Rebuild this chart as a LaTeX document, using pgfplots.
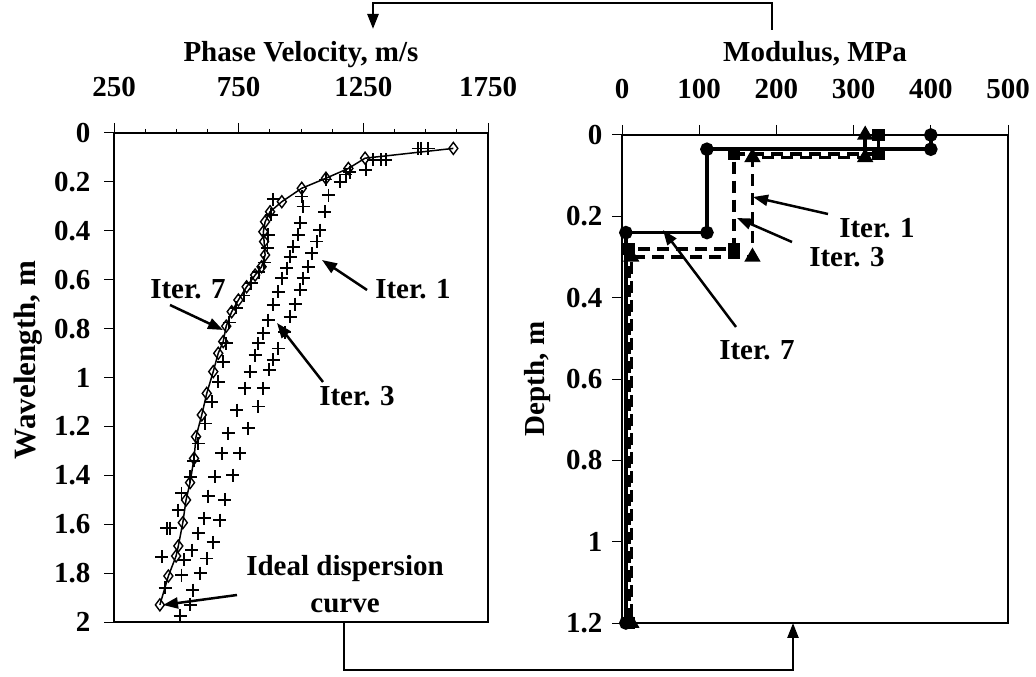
\documentclass[border=0pt]{standalone}
\usepackage{pgfplots}
\pgfplotsset{compat=1.18}
\usepackage{fontspec}
\setmainfont{Liberation Serif}
\usetikzlibrary{arrows.meta}

\newcommand\bigfont{\fontsize{29}{37}\selectfont\bfseries}

\pgfplotsset{panel/.style={
  scale only axis, clip=false,
  y dir=reverse,
  xticklabel pos=upper, xtick pos=upper, ytick pos=left,
  axis line style={line width=1.2pt},
  tick align=outside, major tick length=10pt, minor tick length=4pt,
  tick style={line width=1pt, black},
  tick label style={font=\bigfont},
  xticklabel style={yshift=23pt},
  /pgf/number format/assume math mode=true,
  /pgf/number format/1000 sep={},
}}
\tikzset{ann/.style={line width=2.5pt,-{Triangle[length=15pt,width=11pt]}}}

\begin{document}
\begin{tikzpicture}
\useasboundingbox (0pt,0pt) rectangle (1036pt,677pt);

% left panel: dispersion curves
\begin{axis}[panel, at={(114pt,55pt)}, anchor=south west,
  width=374pt, height=489pt,
  xmin=250, xmax=1750, ymin=0, ymax=2,
  xtick={250,750,1250,1750}, minor x tick num=3,
  ytick={0,0.2,0.4,0.6,0.8,1,1.2,1.4,1.6,1.8,2},
  yticklabel style={xshift=-10pt}]
% iteration 1
\addplot[only marks, mark=+, mark size=6.5pt, mark options={line width=1.8pt}] coordinates {
(1480,0.063) (1340,0.11) (1260,0.15) (1157,0.20) (1110,0.254) (1096,0.322)
(1076,0.397) (1063,0.444) (1043,0.492) (1029,0.547) (1009,0.594) (996,0.642)
(976,0.700) (956,0.751) (935,0.815) (909,0.881) (889,0.928) (873,0.969)
(849,1.044) (829,1.119) (789,1.208) (755,1.310) (726,1.399) (695,1.501)
(675,1.583) (648,1.674) (622,1.740) (595,1.800) (566,1.870) (555,1.930)};
% iteration 3
\addplot[only marks, mark=+, mark size=6.5pt, mark options={line width=1.8pt}] coordinates {
(1510,0.063) (1320,0.11) (1180,0.17) (1003,0.26) (1009,0.301) (996,0.367)
(989,0.417) (969,0.465) (956,0.506) (943,0.553) (923,0.594) (909,0.649)
(889,0.703) (869,0.765) (849,0.819) (829,0.860) (816,0.908) (796,0.976)
(775,1.044) (742,1.133) (708,1.228) (682,1.310) (655,1.406) (628,1.485)
(611,1.576) (588,1.637) (562,1.706) (531,1.746) (521,1.808) (515,1.975)};
% iteration 7
\addplot[only marks, mark=+, mark size=6.5pt, mark options={line width=1.8pt}] coordinates {
(1470,0.063) (1290,0.11) (1195,0.16) (1100,0.19) (889,0.271) (880,0.335)
(869,0.417) (866,0.47) (852,0.53) (830,0.57) (800,0.615) (770,0.665)
(740,0.715) (712,0.775) (700,0.86) (688,0.935) (668,1.017) (642,1.099)
(615,1.188) (588,1.270) (570,1.34) (555,1.406) (521,1.474) (508,1.542)
(461,1.617) (476,1.617) (441,1.733) (455,1.86)};
% ideal dispersion curve
\addplot[black, line width=1.5pt, mark=diamond, mark size=6pt,
  mark options={fill=white, line width=1.4pt}] coordinates {
(1611,0.063) (1257,0.103) (1190,0.145) (1100,0.185) (1003,0.226) (923,0.281)
(876,0.322) (856,0.363) (849,0.404) (852,0.444) (856,0.499) (842,0.547)
(816,0.581) (782,0.629) (749,0.683) (722,0.731) (700,0.79) (688,0.853)
(668,0.901) (648,0.976) (622,1.065) (602,1.153) (579,1.242) (571,1.331)
(555,1.430) (539,1.501) (526,1.594) (508,1.689) (499,1.730) (468,1.812)
(434,1.930)};
\end{axis}

% right panel: modulus profiles
\begin{axis}[panel, at={(622pt,54pt)}, anchor=south west,
  width=386pt, height=488pt,
  xmin=0, xmax=500, ymin=0, ymax=1.2,
  xtick={0,100,200,300,400,500},
  ytick={0,0.2,0.4,0.6,0.8,1,1.2},
  yticklabel style={xshift=-6pt}]
% iteration 7
\addplot[black, line width=3.5pt, mark=*, mark size=5pt] coordinates {
(400,0) (400,0.035) (110,0.035) (110,0.24) (5,0.24) (5,1.2)};
% iteration 3
\addplot[black, line width=3.5pt, dash pattern=on 12pt off 7pt, mark=square*, mark size=4.5pt,
  mark options={solid}] coordinates {
(332,0) (332,0.047) (145,0.047) (145,0.28) (9,0.28) (9,1.2)};
% iteration 1
\addplot[black, line width=3.5pt, dash pattern=on 12pt off 7pt, mark=triangle*, mark size=6pt,
  mark options={solid}] coordinates {
(315,0) (315,0.055) (169,0.055) (169,0.30) (12,0.30) (12,1.2)};
\end{axis}

% axis titles
\node[font=\bigfont, anchor=base] at (301pt,615pt) {Phase Velocity, m/s};
\node[font=\bigfont, anchor=base] at (815pt,615pt) {Modulus, MPa};
\node[font=\fontsize{31}{37}\selectfont\bfseries, rotate=90] at (28pt,317pt) {Wavelength, m};
\node[font=\bigfont, rotate=90] at (538pt,298pt) {Depth, m};

% annotations, left
\node[font=\bigfont] at (188pt,388pt) {Iter. 7};
\draw[ann] (170pt,372pt) -- (223pt,347pt);
\node[font=\bigfont] at (413pt,388pt) {Iter. 1};
\draw[ann] (367pt,387pt) -- (322pt,417pt);
\node[font=\bigfont] at (357pt,281pt) {Iter. 3};
\draw[ann] (323pt,295pt) -- (277pt,354pt);
\node[font=\bigfont, align=center] at (345pt,93pt) {Ideal dispersion\\curve};
\draw[ann] (237pt,82pt) -- (163pt,72pt);

% annotations, right
\node[font=\bigfont] at (877pt,449pt) {Iter. 1};
\draw[ann] (828pt,463pt) -- (753pt,480pt);
\node[font=\bigfont] at (847pt,420pt) {Iter. 3};
\draw[ann] (792pt,435pt) -- (737pt,459pt);
\node[font=\bigfont] at (757pt,327pt) {Iter. 7};
\draw[ann] (736pt,350pt) -- (663pt,447pt);

% connectors between panels
\draw[ann] (772pt,647pt) -- (772pt,674pt) -- (373pt,674pt) -- (373pt,648pt);
\draw[ann] (344pt,55pt) -- (344pt,7pt) -- (793pt,7pt) -- (793pt,54pt);
\end{tikzpicture}
\end{document}
